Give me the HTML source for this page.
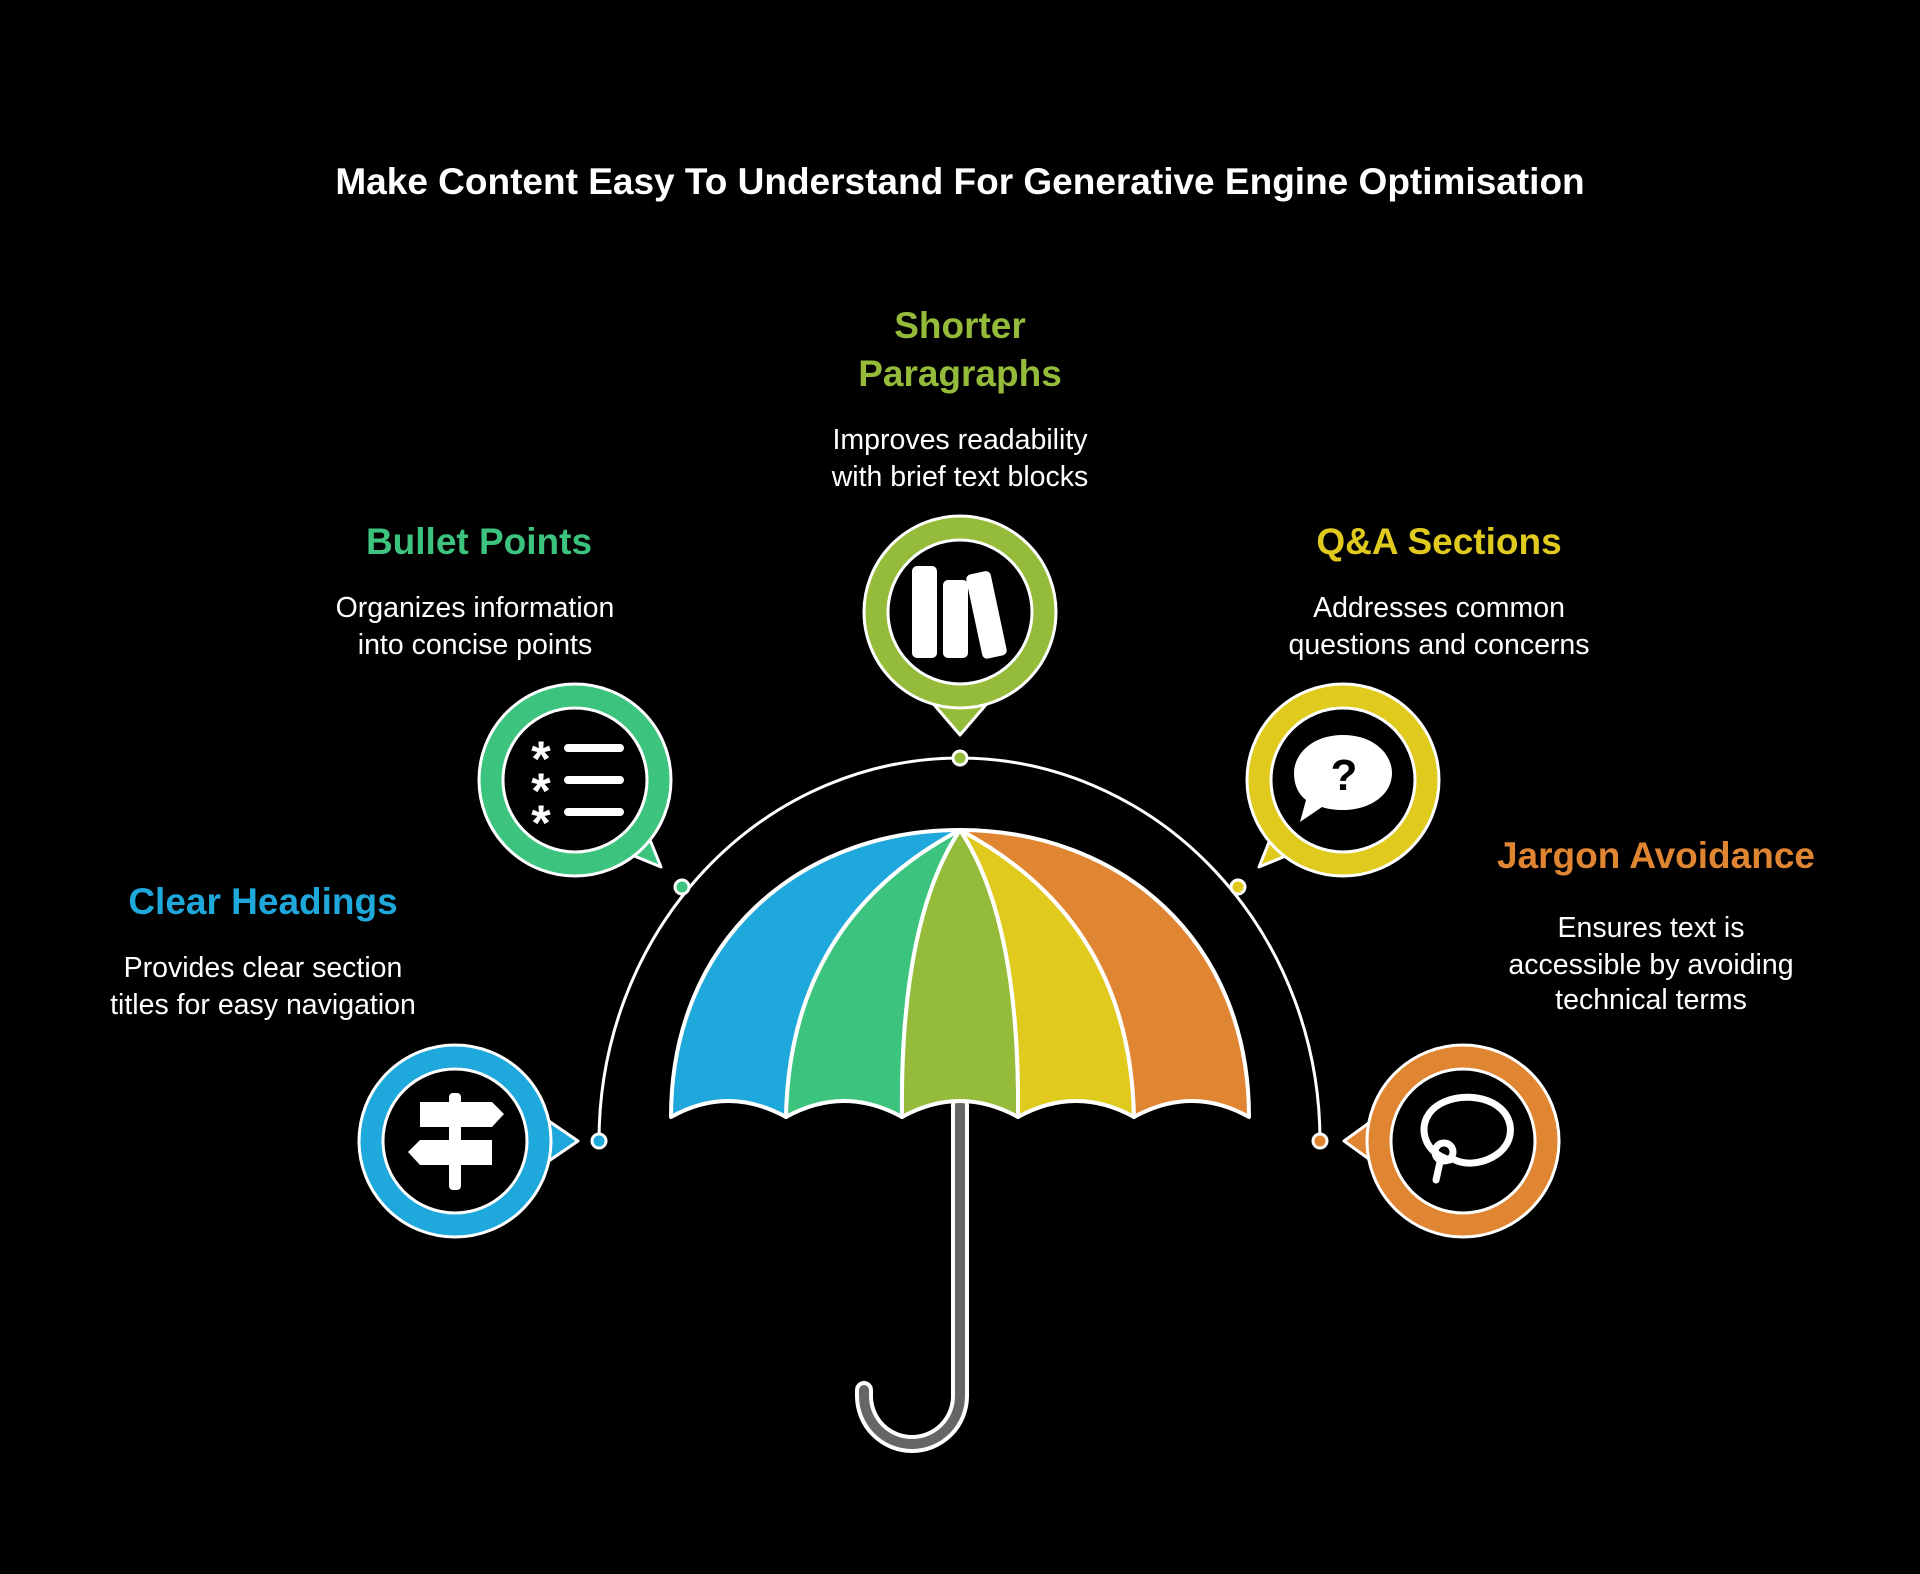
<!DOCTYPE html>
<html><head><meta charset="utf-8"><style>
html,body{margin:0;padding:0;background:#000;}
svg{display:block}
text{font-family:"Liberation Sans",sans-serif;}
.h{font-weight:bold;font-size:37px;text-anchor:middle}
.d{fill:#fff;font-size:28.5px;text-anchor:middle}
</style></head><body>
<svg width="1920" height="1574" viewBox="0 0 1920 1574" xmlns="http://www.w3.org/2000/svg">
<rect width="1920" height="1574" fill="#000"/>
<text x="960" y="194" fill="#fff" font-weight="bold" font-size="37" text-anchor="middle">Make Content Easy To Understand For Generative Engine Optimisation</text>

<text class="h" x="960" y="338" fill="#94BB3A">Shorter</text>
<text class="h" x="960" y="386" fill="#94BB3A">Paragraphs</text>
<text class="d" x="960" y="449">Improves readability</text>
<text class="d" x="960" y="486">with brief text blocks</text>

<text class="h" x="479" y="554" fill="#3CC47F">Bullet Points</text>
<text class="d" x="475" y="617">Organizes information</text>
<text class="d" x="475" y="654">into concise points</text>

<text class="h" x="1439" y="554" fill="#E0CA1E">Q&amp;A Sections</text>
<text class="d" x="1439" y="617">Addresses common</text>
<text class="d" x="1439" y="654">questions and concerns</text>

<text class="h" x="263" y="914" fill="#1EA8DB">Clear Headings</text>
<text class="d" x="263" y="977">Provides clear section</text>
<text class="d" x="263" y="1014">titles for easy navigation</text>

<text class="h" x="1656" y="868" fill="#E08531">Jargon Avoidance</text>
<text class="d" x="1651" y="937">Ensures text is</text>
<text class="d" x="1651" y="974">accessible by avoiding</text>
<text class="d" x="1651" y="1009">technical terms</text>

<!-- arc -->
<path d="M599,1141 A361,383 0 0 1 960,758 A361,383 0 0 1 1320,1141" fill="none" stroke="#fff" stroke-width="3"/>
<g stroke="#fff" stroke-width="3">
<circle cx="960" cy="758" r="7" fill="#94BB3A"/>
<circle cx="682" cy="887" r="7" fill="#3CC47F"/>
<circle cx="1238" cy="887" r="7" fill="#E0CA1E"/>
<circle cx="599" cy="1141" r="7" fill="#1EA8DB"/>
<circle cx="1320" cy="1141" r="7" fill="#E08531"/>
</g>

<!-- handle -->
<path d="M960,1105 L960,1396 A48,48 0 0 1 864,1396 L864,1390" fill="none" stroke="#fff" stroke-width="18" stroke-linecap="round"/>
<path d="M960,1105 L960,1396 A48,48 0 0 1 864,1396 L864,1390" fill="none" stroke="#666" stroke-width="10" stroke-linecap="round"/>

<!-- canopy -->
<g stroke="#fff" stroke-width="4" stroke-linejoin="round">
<path d="M960,830 C800,830 671,940 671,1117 Q728,1085 786,1117 Q790,920 960,830Z" fill="#1EA8DB"/>
<path d="M960,830 Q790,920 786,1117 Q844,1085 902,1117 Q900,920 960,830Z" fill="#3CC47F"/>
<path d="M960,830 Q900,920 902,1117 Q960,1085 1018,1117 Q1020,920 960,830Z" fill="#94BB3A"/>
<path d="M960,830 Q1020,920 1018,1117 Q1076,1085 1134,1117 Q1130,920 960,830Z" fill="#E0CA1E"/>
<path d="M960,830 Q1130,920 1134,1117 Q1192,1085 1249,1117 C1249,940 1120,830 960,830Z" fill="#E08531"/>
</g>

<!-- bubbles -->
<g stroke="#fff" stroke-width="3" stroke-linejoin="round">
<path d="M930,700 L960,735 L990,700Z" fill="#94BB3A"/>
<circle cx="960" cy="612" r="96" fill="#94BB3A"/>
<path d="M620,850 L661,867 L640,815Z" fill="#3CC47F"/>
<circle cx="575" cy="780" r="96" fill="#3CC47F"/>
<path d="M1300,850 L1259,867 L1280,815Z" fill="#E0CA1E"/>
<circle cx="1343" cy="780" r="96" fill="#E0CA1E"/>
<path d="M540,1115 L578,1141 L540,1167Z" fill="#1EA8DB"/>
<circle cx="455" cy="1141" r="96" fill="#1EA8DB"/>
<path d="M1380,1115 L1344,1141 L1380,1167Z" fill="#E08531"/>
<circle cx="1463" cy="1141" r="96" fill="#E08531"/>
</g>
<g fill="#000" stroke="#fff" stroke-width="3">
<circle cx="960" cy="612" r="72"/>
<circle cx="575" cy="780" r="72"/>
<circle cx="1343" cy="780" r="72"/>
<circle cx="455" cy="1141" r="72"/>
<circle cx="1463" cy="1141" r="72"/>
</g>

<!-- icons -->
<g fill="#fff">
<rect x="912" y="566" width="25" height="92" rx="5"/>
<rect x="943" y="580" width="25" height="78" rx="5"/>
<rect x="974" y="572" width="25" height="86" rx="5" transform="rotate(-12 986 615)"/>
<rect x="564" y="744" width="60" height="8" rx="4"/>
<rect x="564" y="776" width="60" height="8" rx="4"/>
<rect x="564" y="808" width="60" height="8" rx="4"/>
</g>
<g fill="#fff" font-family="Liberation Sans,sans-serif" font-weight="bold" font-size="50" text-anchor="middle">
<text x="541" y="776">*</text><text x="541" y="808">*</text><text x="541" y="840">*</text>
</g>
<path d="M1343,735 C1375,735 1392,755 1392,773 C1392,795 1370,810 1343,810 C1335,810 1328,809 1322,807 L1300,822 L1306,800 C1297,793 1294,783 1294,773 C1294,755 1311,735 1343,735Z" fill="#fff"/>
<text x="1344" y="790" fill="#000" font-weight="bold" font-size="44" text-anchor="middle">?</text>
<g fill="#fff">
<rect x="449" y="1093" width="12" height="97" rx="4"/>
<path d="M420,1102 L492,1102 L504,1114 L492,1127 L420,1127Z"/>
<path d="M492,1140 L420,1140 L408,1152 L420,1165 L492,1165Z"/>
</g>
<g fill="none" stroke="#fff" stroke-width="7" stroke-linecap="round">
<path d="M1450,1160 C1420,1152 1415,1118 1440,1104 C1465,1090 1505,1098 1510,1125 C1515,1155 1475,1170 1455,1160"/>
<circle cx="1444" cy="1152" r="9"/>
<path d="M1440,1162 L1436,1180"/>
</g>
</svg>
</body></html>
